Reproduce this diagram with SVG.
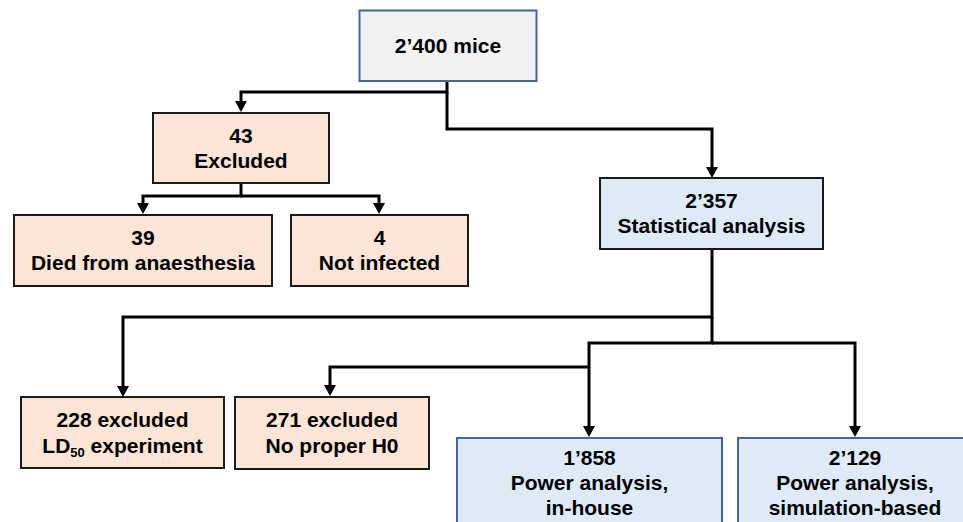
<svg xmlns="http://www.w3.org/2000/svg" width="963" height="522" viewBox="0 0 963 522">
<style>
.t{font-family:"Liberation Sans",Arial,sans-serif;font-weight:bold;font-size:21px;fill:#000;text-anchor:middle}
.peach{fill:#fbe5d6;stroke:#1a1a1a;stroke-width:2}
.blue{fill:#deebf7;stroke:#1a1a1a;stroke-width:2}
.blueb{fill:#deebf7;stroke:#41659f;stroke-width:2}
.grey{fill:#f2f2f2;stroke:#41659f;stroke-width:2}
.c{fill:none;stroke:#000;stroke-width:3;marker-end:url(#ah)}
.c0{fill:none;stroke:#000;stroke-width:3}
</style>
<defs>
<marker id="ah" markerUnits="userSpaceOnUse" markerWidth="12" markerHeight="14" viewBox="0 -7 12 14" refX="8" refY="0" orient="auto">
<path d="M0,-6 L11,0 L0,6 z" fill="#000"/>
</marker>
</defs>
<g id="connectors">
<path class="c" d="M447,81 V92 H241 V109"/>
<path class="c" d="M447,92 V129 H712 V175"/>
<path class="c" d="M241,183 V196 H143 V211"/>
<path class="c" d="M241,196 H379 V211"/>
<path class="c" d="M712,249 V317 H123 V394"/>
<path class="c" d="M712,317 V343 H589 V434"/>
<path class="c" d="M712,343 H855 V434"/>
<path class="c" d="M589,367 H330 V393"/>
</g>
<g id="n_mice">
<rect class="grey" x="359.5" y="10.5" width="177" height="70.5"/>
<text class="t" x="448" y="53">2’400 mice</text>
</g>
<g id="n_excluded">
<rect class="peach" x="153" y="113" width="176" height="70"/>
<text class="t" x="241" y="143">43</text>
<text class="t" x="241" y="168">Excluded</text>
</g>
<g id="n_died">
<rect class="peach" x="14" y="215" width="258" height="71"/>
<text class="t" x="143" y="245">39</text>
<text class="t" x="143" y="270">Died from anaesthesia</text>
</g>
<g id="n_notinfected">
<rect class="peach" x="291" y="215" width="177" height="71"/>
<text class="t" x="379.5" y="245">4</text>
<text class="t" x="379.5" y="270">Not infected</text>
</g>
<g id="n_stat">
<rect class="blue" x="600" y="178" width="223" height="71"/>
<text class="t" x="711.5" y="208">2’357</text>
<text class="t" x="711.5" y="233">Statistical analysis</text>
</g>
<g id="n_ld50">
<rect class="peach" x="21" y="397" width="203" height="71"/>
<text class="t" x="122.5" y="427">228 excluded</text>
<text class="t" x="122.5" y="453">LD<tspan font-size="13" dy="4">50</tspan><tspan dy="-4"> experiment</tspan></text>
</g>
<g id="n_h0">
<rect class="peach" x="235" y="397" width="194" height="72"/>
<text class="t" x="332" y="427">271 excluded</text>
<text class="t" x="332" y="453">No proper H0</text>
</g>
<g id="n_inhouse">
<rect class="blueb" x="457" y="438" width="265" height="100"/>
<text class="t" x="589.5" y="465">1’858</text>
<text class="t" x="589.5" y="490">Power analysis,</text>
<text class="t" x="589.5" y="515">in-house</text>
</g>
<g id="n_sim">
<rect class="blueb" x="738" y="438" width="234" height="100"/>
<text class="t" x="855" y="465">2’129</text>
<text class="t" x="855" y="490">Power analysis,</text>
<text class="t" x="855" y="515">simulation-based</text>
</g>
</svg>
